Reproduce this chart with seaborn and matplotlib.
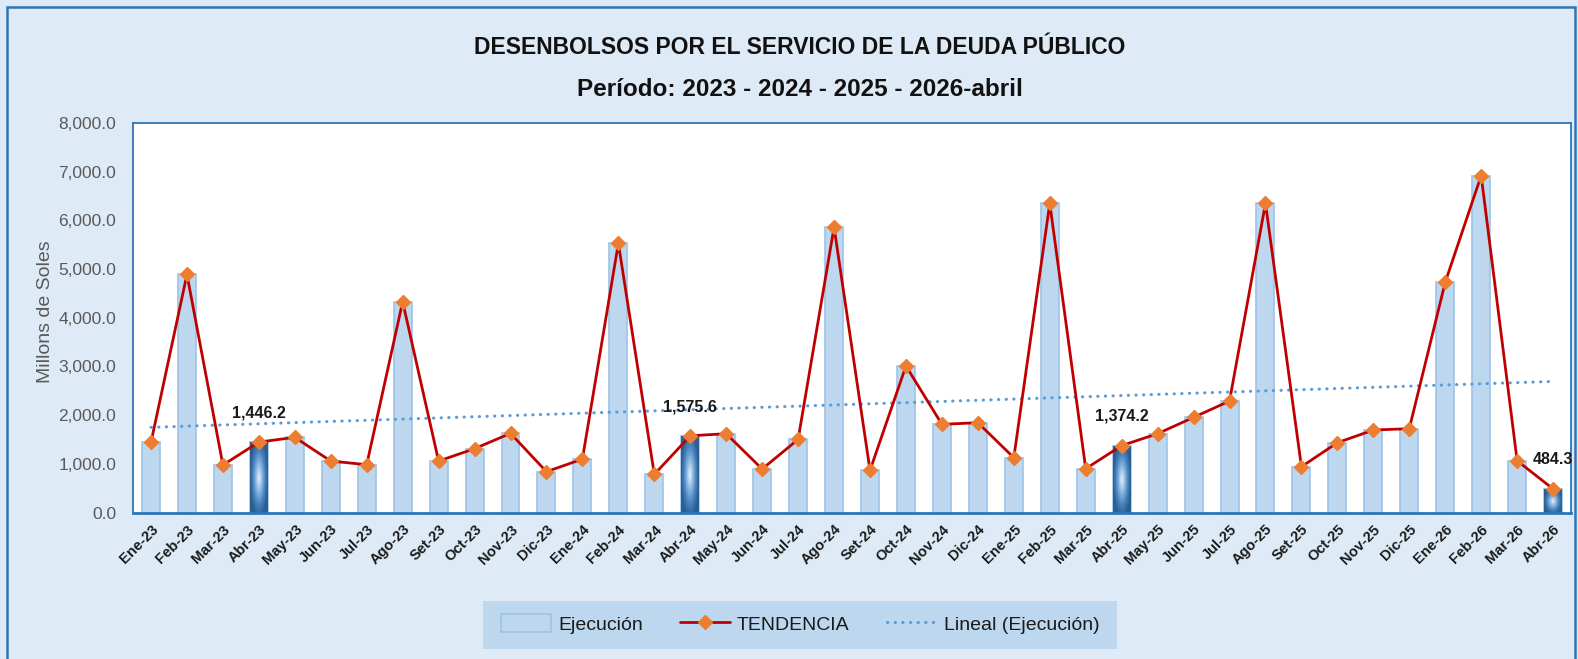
import numpy as np
import matplotlib
matplotlib.use("Agg")
import matplotlib.pyplot as plt
import seaborn as sns
from matplotlib.patches import Patch, Rectangle
from matplotlib.lines import Line2D
from matplotlib.colors import LinearSegmentedColormap

meses = ["Ene-23", "Feb-23", "Mar-23", "Abr-23", "May-23", "Jun-23", "Jul-23", "Ago-23",
         "Set-23", "Oct-23", "Nov-23", "Dic-23", "Ene-24", "Feb-24", "Mar-24", "Abr-24",
         "May-24", "Jun-24", "Jul-24", "Ago-24", "Set-24", "Oct-24", "Nov-24", "Dic-24",
         "Ene-25", "Feb-25", "Mar-25", "Abr-25", "May-25", "Jun-25", "Jul-25", "Ago-25",
         "Set-25", "Oct-25", "Nov-25", "Dic-25", "Ene-26", "Feb-26", "Mar-26", "Abr-26"]
ejecucion = [1441, 4890, 975, 1446.2, 1544, 1057, 982, 4330,
             1057, 1311, 1626, 838, 1098, 5530, 784, 1575.6,
             1619, 893, 1502, 5860, 866, 3010, 1811, 1845,
             1126, 6350, 900, 1374.2, 1619, 1954, 2290, 6350,
             941, 1434, 1694, 1722, 4730, 6920, 1064, 484.3]
resaltados = ["Abr-23", "Abr-24", "Abr-25", "Abr-26"]

FAM = ["Liberation Sans", "DejaVu Sans"]
BG = "#DEEBF7"
BAR = "#BDD7EE"
BAR_EDGE = "#9DC3E6"
BLUE = "#2E75B6"

sns.set_style("white")
plt.rcParams["font.family"] = FAM

fig = plt.figure(figsize=(15.78, 6.59), dpi=100, facecolor=BG)
ax = fig.add_axes([0.0843, 0.2223, 0.9113, 0.5910])
ax.set_facecolor("white")

sns.barplot(x=meses, y=ejecucion, order=meses, color=BAR, saturation=1,
            width=0.5, errorbar=None, edgecolor=BAR_EDGE, linewidth=1.2, ax=ax, zorder=2)

# gradient fill for the highlighted (April) bars
cmap = LinearSegmentedColormap.from_list("grad", ["#E3EFFA", "#8DB9E4", "#4A84BE", "#2A5F93"])
uu, vv = np.meshgrid(np.linspace(-1, 1, 60), np.linspace(-1, 1, 200))
rr = np.clip(np.sqrt(uu ** 2 + (vv * 0.9) ** 2), 0, 1)
for i, p in enumerate(ax.patches[:len(meses)]):
    if meses[i] in resaltados:
        x0, w, h = p.get_x(), p.get_width(), p.get_height()
        p.set_facecolor("none")
        im = ax.imshow(rr, cmap=cmap, extent=[x0, x0 + w, 0, h], aspect="auto",
                       origin="lower", zorder=2.1, interpolation="bilinear")
        im.set_clip_path(p)

xs = np.arange(len(meses))
ax.plot(xs, ejecucion, color="#C00000", lw=2, marker="D", markersize=7.5,
        markerfacecolor="#ED7D31", markeredgecolor="#ED7D31", zorder=4)

# linear trend of Ejecución
m, b = np.polyfit(xs, ejecucion, 1)
ax.plot(xs, m * xs + b, color="#5B9BD5", lw=2.2, linestyle=(0, (0.1, 2.4)),
        dash_capstyle="round", zorder=3)

for i, v in enumerate(ejecucion):
    if meses[i] in resaltados:
        ax.annotate(f"{v:,.1f}", (i, v), xytext=(0, 21), textcoords="offset points",
                    ha="center", va="center", fontsize=11.5, fontweight="bold",
                    color="#1A1A1A", zorder=5)

ax.set_xlim(-0.5, len(meses) - 0.5)
ax.set_ylim(0, 8000)
ax.set_yticks(np.arange(0, 8001, 1000))
ax.set_yticklabels([f"{t:,.1f}" for t in np.arange(0, 8001, 1000)], fontsize=12.5, color="#595959")
ax.set_xticks(xs)
ax.set_xticklabels(meses, rotation=45, ha="right", rotation_mode="anchor",
                   fontsize=10.5, fontweight="bold", color="#1A1A1A")
ax.tick_params(axis="y", length=0, pad=12)
ax.tick_params(axis="x", length=0, pad=7)
ax.set_xlabel("")
ax.set_ylabel("")
for s in ax.spines.values():
    s.set_visible(True)
    s.set_color(BLUE)
    s.set_linewidth(1.3)
ax.spines["bottom"].set_linewidth(2)

fig.text(45 / 1578, 1 - 312 / 659, "Millons de Soles", rotation=90, ha="center", va="center",
         fontsize=14, color="#595959")

fig.text(0.507, 1 - 47 / 659, "DESENBOLSOS POR EL SERVICIO DE LA DEUDA PÚBLICO",
         ha="center", va="center", fontsize=16.5, fontweight="bold", color="#111111")
fig.text(0.507, 1 - 90 / 659, "Período: 2023 - 2024 - 2025 - 2026-abril",
         ha="center", va="center", fontsize=17.5, fontweight="bold", color="#111111")

# legend band
fig.patches.append(Rectangle((483 / 1578, 1 - 649 / 659), 634 / 1578, 48 / 659,
                             transform=fig.transFigure, facecolor=BAR, edgecolor="none",
                             zorder=0))
handles = [
    Patch(facecolor=BAR, edgecolor=BAR_EDGE, linewidth=1.2, label="Ejecución"),
    Line2D([0], [0], color="#C00000", lw=2, marker="D", markersize=7.5,
           markerfacecolor="#ED7D31", markeredgecolor="#ED7D31", label="TENDENCIA"),
    Line2D([0], [0], color="#5B9BD5", lw=2.2, linestyle=(0, (0.1, 2.4)),
           dash_capstyle="round", label="Lineal (Ejecución)"),
]
leg = fig.legend(handles=handles, loc="center", bbox_to_anchor=(800 / 1578, 1 - 624 / 659),
                 ncol=3, frameon=False, fontsize=14, handlelength=2.6, handleheight=1.0,
                 columnspacing=1.9, handletextpad=0.35)
for t in leg.get_texts():
    t.set_color("#1A1A1A")

fig.patches.append(Rectangle((7 / 1578, -0.05), 1568 / 1578, 1.05 - 7 / 659,
                             transform=fig.transFigure, fill=False, edgecolor=BLUE,
                             linewidth=1.8, zorder=0))

fig.savefig("out.png", dpi=100, facecolor=BG)
